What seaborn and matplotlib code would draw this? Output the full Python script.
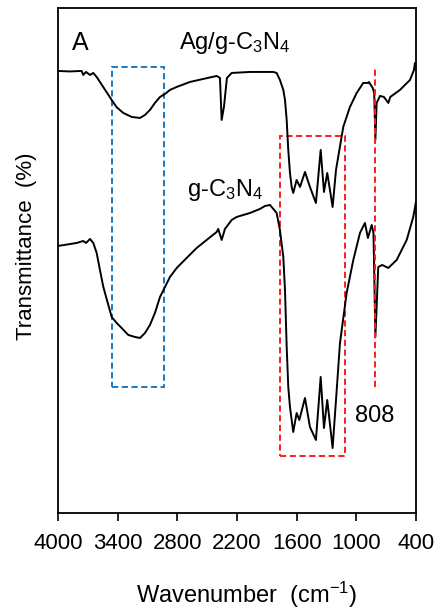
import matplotlib
matplotlib.use("Agg")
import matplotlib.pyplot as plt
import seaborn as sns
import pandas as pd
from matplotlib.patches import Rectangle

# Ag/g-C3N4 spectrum (wavenumber cm-1, transmittance a.u.)
ag_wn = [4000, 3880, 3762, 3746, 3718, 3678, 3645, 3611, 3460, 3410, 3343, 3259, 3175,
         3125, 3075, 3025, 2974, 2924, 2874, 2806, 2673, 2539, 2404, 2371, 2354, 2331,
         2301, 2253, 2069, 1835, 1801, 1768, 1734, 1717, 1700, 1684, 1667, 1650, 1634,
         1600, 1566, 1516, 1466, 1406, 1358, 1325, 1292, 1238, 1204, 1131, 1064, 996,
         930, 883, 873, 835, 820, 808, 795, 762, 722, 678, 658, 561, 460, 420, 410, 400]
ag_t = [442, 441.5, 442, 438, 441, 438, 440, 436, 413, 405.7, 400, 396, 395,
        398, 403, 410, 416, 419, 423, 426, 431, 434, 437, 435, 393, 406,
        435, 440, 441, 441, 440, 433, 423, 413, 393, 363, 340, 326, 320,
        333, 326, 341, 326, 310, 363, 321, 340, 306, 343, 386, 406, 420,
        430, 430, 431, 425, 420, 373, 410, 417, 416, 410, 416, 423, 433, 443, 450, 446]

# g-C3N4 spectrum
g_wn = [4000, 3812, 3746, 3718, 3678, 3645, 3611, 3578, 3544, 3494, 3460, 3410, 3360,
        3293, 3226, 3175, 3125, 3075, 3025, 2974, 2924, 2874, 2806, 2706, 2605, 2505,
        2404, 2388, 2354, 2321, 2253, 2203, 2069, 1969, 1918, 1868, 1851, 1801, 1768,
        1734, 1717, 1700, 1684, 1667, 1634, 1600, 1573, 1516, 1466, 1406, 1358, 1325,
        1292, 1238, 1204, 1164, 1097, 1030, 963, 913, 883, 845, 827, 808, 779, 739,
        678, 594, 493, 427, 400]
g_t = [267, 270, 272, 270, 274, 270, 260, 243, 226, 208, 196, 190, 185,
       178, 176, 175, 180, 188, 200, 216, 226, 236, 245, 255, 265, 273,
       281, 284, 273, 284, 293, 296, 300, 304, 307, 308, 306, 300, 283,
       256, 223, 166, 126, 106, 81, 100, 93, 115, 86, 73, 136, 85,
       113, 65, 113, 170, 220, 253, 280, 290, 275, 288, 280, 176, 246, 248,
       245, 253, 273, 296, 311]

xticks = [4000, 3400, 2800, 2200, 1600, 1000, 400]

df = pd.concat([
    pd.DataFrame({"wn": ag_wn, "T": ag_t, "s": "Ag/g-C3N4"}),
    pd.DataFrame({"wn": g_wn, "T": g_t, "s": "g-C3N4"}),
])

sns.set_style("white")
plt.rcParams['font.family'] = ['Liberation Sans', 'DejaVu Sans']
plt.rcParams['mathtext.fontset'] = 'custom'
plt.rcParams['mathtext.rm'] = 'Liberation Sans'
plt.rcParams['mathtext.it'] = 'Liberation Sans'
plt.rcParams['text.color'] = 'black'
plt.rcParams['axes.labelcolor'] = 'black'
plt.rcParams['xtick.color'] = 'black'

fig = plt.figure(figsize=(4.36, 6.11), dpi=100)
ax = fig.add_axes([0.133, 0.1604, 0.821, 0.8266])

sns.lineplot(data=df, x="wn", y="T", units="s", estimator=None, sort=False,
             color="black", lw=1.4, ax=ax, legend=False)

ax.set_xlim(4000, 400)
ax.set_ylim(0, 505)
ax.set_xticks(xticks)
ax.set_xticklabels([str(t) for t in xticks], fontsize=16)
ax.set_yticks([])
ax.tick_params(axis='x', direction='out', length=6, width=1.2, bottom=True, pad=8.5)
for sp in ax.spines.values():
    sp.set_visible(True)
    sp.set_color("black")
    sp.set_linewidth(1.3)

ax.set_xlabel("Wavenumber  (cm$^{\\mathregular{-1}}$)", fontsize=17)
ax.set_ylabel("Transmittance  (%)", fontsize=16)
ax.xaxis.set_label_coords(0.5265, -0.1325)
ax.yaxis.set_label_coords(-0.06, 0.528)

blue = "#1a78c2"
red = "#ff1a1a"
dash = (0, (3.2, 1.8))
ax.add_patch(Rectangle((3460, 126), 2934 - 3460, 446 - 126, fill=False,
                       edgecolor=blue, lw=1.4, ls=dash))
ax.add_patch(Rectangle((1768, 57), 1114 - 1768, 377 - 57, fill=False,
                       edgecolor=red, lw=1.4, ls=dash))
ax.plot([808, 808], [126, 446], color=red, lw=1.4, ls=dash)

ax.text(3779, 470, "A", fontsize=18, ha="center", va="center")
ax.text(2220, 470, "Ag/g-C$_3$N$_4$", fontsize=17, ha="center", va="center")
ax.text(2321, 323, "g-C$_3$N$_4$", fontsize=17, ha="center", va="center")
ax.text(812, 97, "808", fontsize=17, ha="center", va="center")

fig.savefig("out.png", dpi=100)
